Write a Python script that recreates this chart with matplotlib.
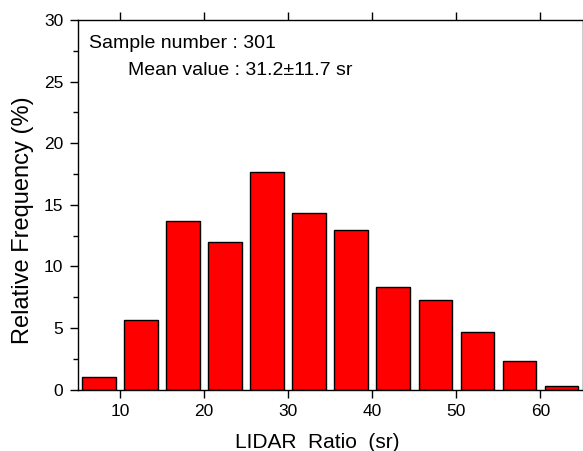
import matplotlib.pyplot as plt
from matplotlib.ticker import MultipleLocator

plt.rcParams['font.family'] = ['Liberation Sans', 'DejaVu Sans']

# Bin centres (sr) and relative frequency (%).
bin_centers = [7.5, 12.5, 17.5, 22.5, 27.5, 32.5, 37.5, 42.5, 47.5, 52.5, 57.5, 62.5]
rel_freq = [1.0, 5.65, 13.65, 12.0, 17.65, 14.3, 12.95, 8.3, 7.3, 4.65, 2.3, 0.3]

W, H = 583, 451
fig = plt.figure(figsize=(W / 100, H / 100), dpi=100)
# axes box in pixels: left 78, right 582.5, top 20, bottom 389.5
ax = fig.add_axes([78 / W, 1 - 389.5 / H, 504.5 / W, 369.5 / H])

ax.bar(bin_centers, rel_freq, width=4.0, color='#ff0000',
       edgecolor='black', linewidth=1.0)

ax.set_xlim(5, 65)
ax.set_ylim(0, 30)
ax.xaxis.set_major_locator(MultipleLocator(10))
ax.yaxis.set_major_locator(MultipleLocator(5))
ax.yaxis.set_minor_locator(MultipleLocator(2.5))

# Outward ticks on all four sides, labels only bottom/left.
ax.tick_params(axis='both', which='both', direction='out',
               top=True, right=True, labelsize=12.5, width=1.0)
ax.tick_params(which='major', length=5.5, pad=5)
ax.tick_params(which='minor', length=3.5)
for s in ax.spines.values():
    s.set_linewidth(1.0)

# axis titles placed by hand (the original is not centred on the box)
fig.text(317 / W, 1 - 448 / H, 'LIDAR  Ratio  (sr)', fontsize=15,
         ha='center', va='baseline')
fig.text(23.5 / W, 1 - 220 / H, 'Relative Frequency (%)', fontsize=17,
         ha='center', va='center', rotation=90)

ax.text(0.022, 0.924, 'Sample number : 301', transform=ax.transAxes,
        fontsize=14, va='baseline')
ax.text(0.099, 0.851, 'Mean value : 31.2\u00b111.7 sr', transform=ax.transAxes,
        fontsize=14, va='baseline')

fig.savefig('out.png', dpi=100)
